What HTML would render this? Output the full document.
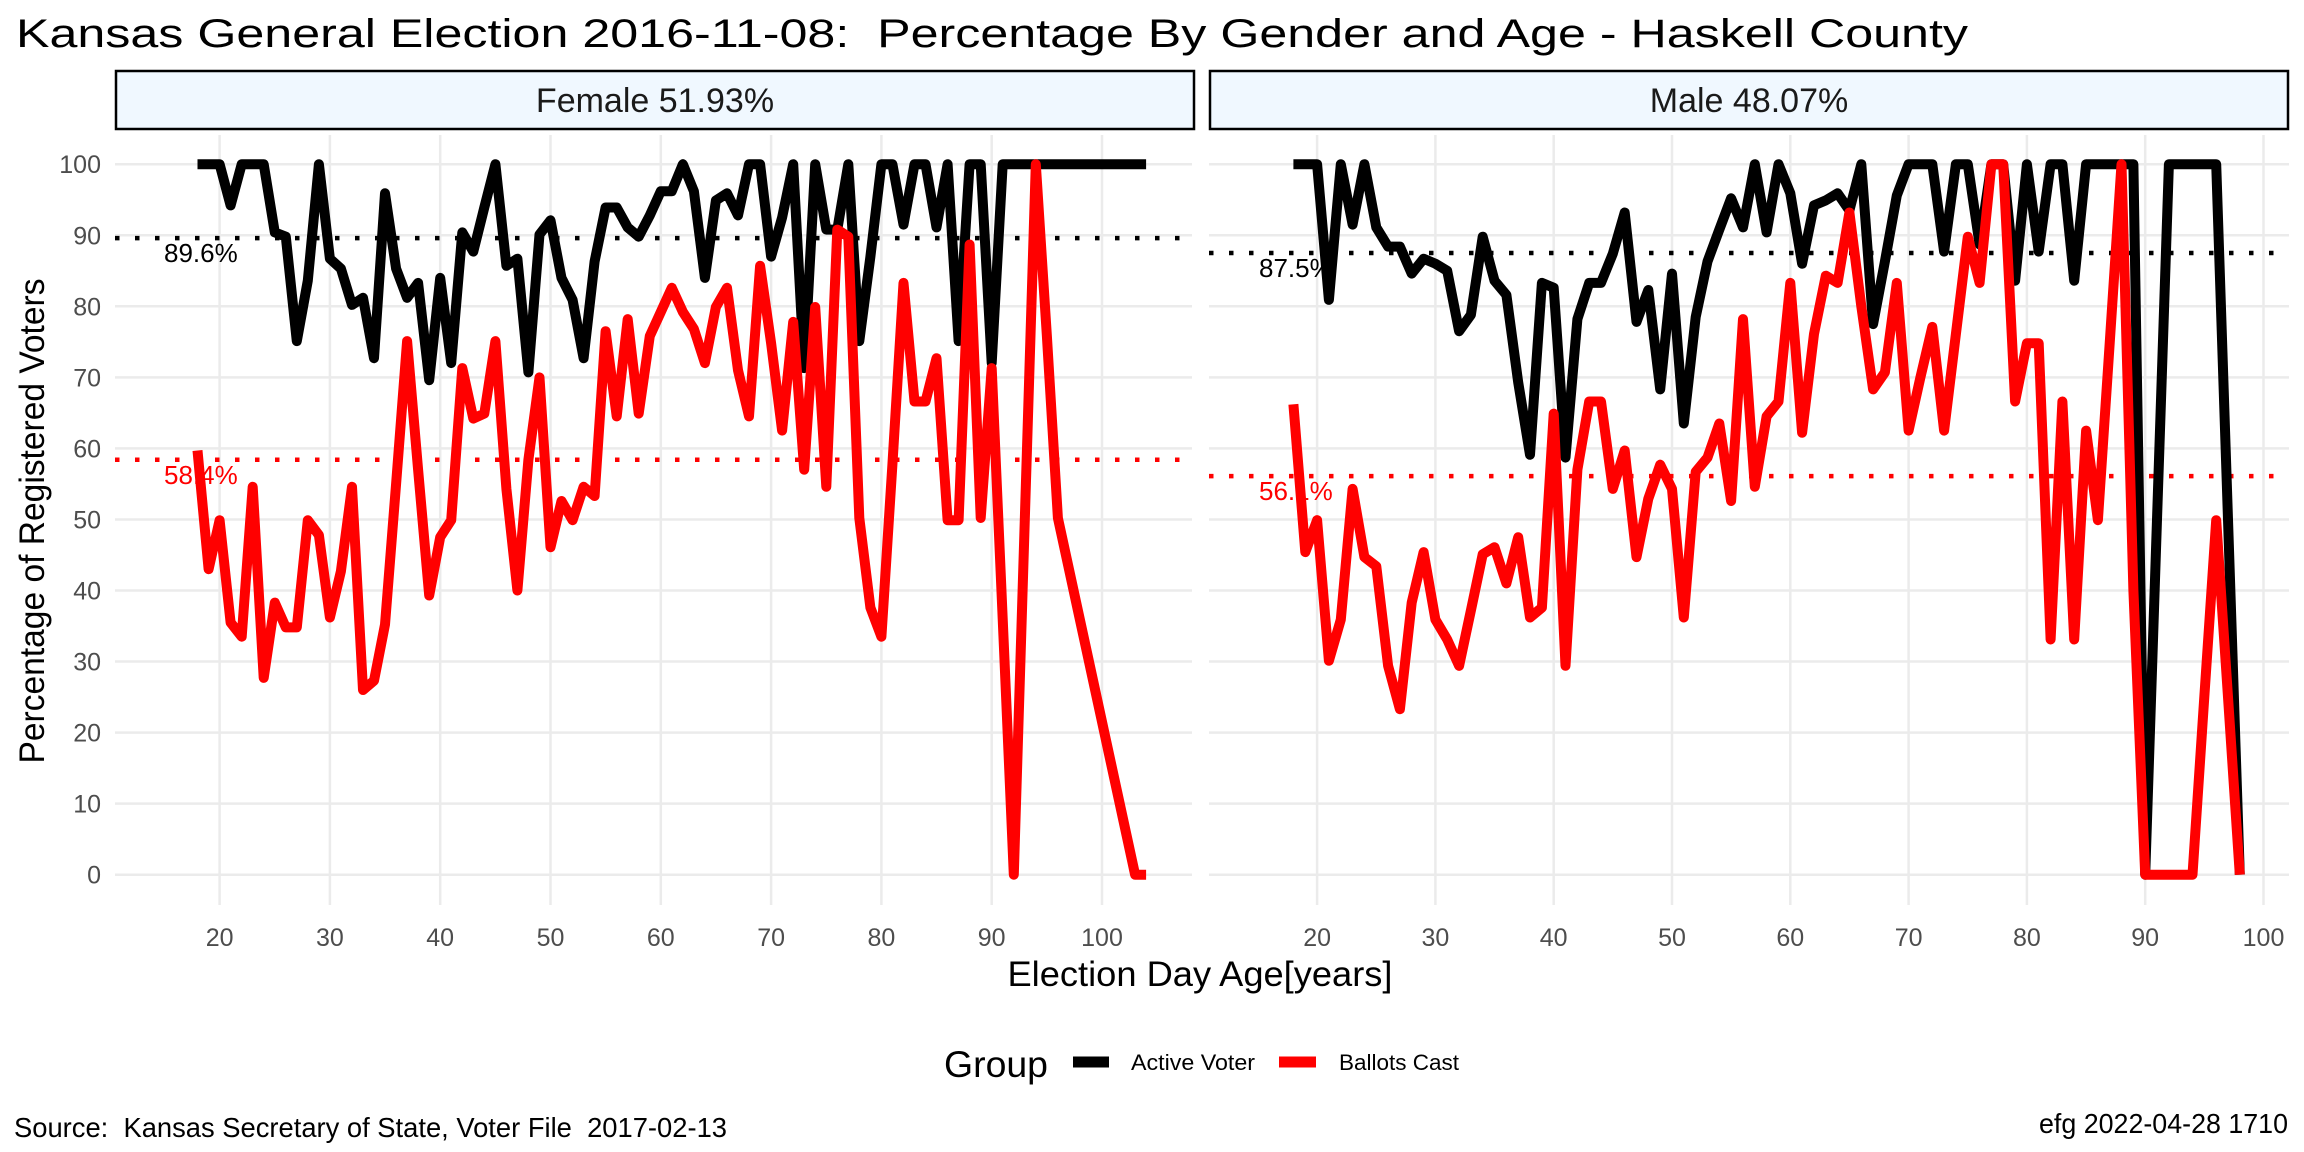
<!DOCTYPE html>
<html><head><meta charset="utf-8"><style>
html,body{margin:0;padding:0;background:#fff;}
svg{display:block;font-family:"Liberation Sans",Arial,sans-serif;}
svg text{white-space:pre;}
</style></head><body>
<svg id="chart" width="2304" height="1152" viewBox="0 0 2304 1152" xmlns="http://www.w3.org/2000/svg" xml:space="preserve">
<rect width="2304" height="1152" fill="#fff"/>
<text x="16" y="47" font-size="40" textLength="1952" lengthAdjust="spacingAndGlyphs">Kansas General Election 2016-11-08:  Percentage By Gender and Age - Haskell County</text>
<g id="panels"></g>
<text transform="translate(44,521) rotate(-90)" text-anchor="middle" font-size="35" textLength="485" lengthAdjust="spacingAndGlyphs">Percentage of Registered Voters</text>
<text x="1200" y="986" text-anchor="middle" font-size="35" textLength="385" lengthAdjust="spacingAndGlyphs">Election Day Age[years]</text>
<g>
<text x="944" y="1077" font-size="37" textLength="104" lengthAdjust="spacingAndGlyphs">Group</text>
<line x1="1073" y1="1062" x2="1109" y2="1062" stroke="#000" stroke-width="11"/>
<text x="1131" y="1070" font-size="22" textLength="124" lengthAdjust="spacingAndGlyphs">Active Voter</text>
<line x1="1279" y1="1062" x2="1316" y2="1062" stroke="#f00" stroke-width="11"/>
<text x="1339" y="1070" font-size="22" textLength="120" lengthAdjust="spacingAndGlyphs">Ballots Cast</text>
</g>
<text x="14" y="1137" font-size="28" textLength="713" lengthAdjust="spacingAndGlyphs">Source:  Kansas Secretary of State, Voter File  2017-02-13</text>
<text x="2288" y="1133" text-anchor="end" font-size="28" textLength="249" lengthAdjust="spacingAndGlyphs">efg 2022-04-28 1710</text>
</svg>
<script>
// Female panel data
const femaleActiveAges = [18,19,20,21,22,23,24,25,26,27,28,29,30,31,32,33,34,35,36,37,38,39,40,41,42,43,44,45,46,47,48,49,50,51,52,53,54,55,56,57,58,59,60,61,62,63,64,65,66,67,68,69,70,71,72,73,74,75,76,77,78,79,80,81,82,83,84,85,86,87,88,89,90,91,92,93,94,95,96,97,98,99,100,101,102,103,104];
const femaleActive = [100,100,100,94.2,100,100,100,90.4,89.8,75.1,83.6,100,86.7,85.3,80.2,81.2,72.7,95.9,85.3,81.2,83.3,69.6,84,72,90.4,87.7,93.9,100,85.7,86.7,70.7,90.1,92.1,84,80.9,72.7,86.3,93.9,93.9,91.1,89.8,92.8,96.2,96.2,100,96.2,84,94.9,95.9,92.8,100,100,87,92.5,100,71.3,100,90.8,90.8,100,75.1,87,100,100,91.5,100,100,91.1,100,75.1,100,100,72,100,100,100,100,100,100,100,100,100,100,100,100,100,100];
const femaleBallotAges = [18,19,20,21,22,23,24,25,26,27,28,29,30,31,32,33,34,35,36,37,38,39,40,41,42,43,44,45,46,47,48,49,50,51,52,53,54,55,56,57,58,59,60,61,62,63,64,65,66,67,68,69,70,71,72,73,74,75,76,77,78,79,80,81,82,83,84,85,86,87,88,89,90,91,92,93,94,95,96,103,104];
const femaleBallots = [59.7,43,49.9,35.5,33.5,54.6,27.7,38.3,34.8,34.8,49.9,47.8,36.2,42.7,54.6,26,27.3,35.2,55,75.1,57,39.3,47.5,49.9,71.3,64.2,64.9,75.1,54.3,40,58.4,70,46.1,52.6,49.9,54.6,53.3,76.5,64.5,78.2,64.9,75.8,79.2,82.6,79.2,76.8,72,79.9,82.6,71,64.5,85.7,74.8,62.5,77.8,57,79.9,54.6,90.8,89.8,50.2,37.6,33.5,57.7,83.3,66.6,66.6,72.7,49.9,49.9,88.7,50.2,71.3,36,0,50,100,76,50.2,0,0];
// Male panel data
const maleActiveAges = [18,19,20,21,22,23,24,25,26,27,28,29,30,31,32,33,34,35,36,37,38,39,40,41,42,43,44,45,46,47,48,49,50,51,52,53,54,55,56,57,58,59,60,61,62,63,64,65,66,67,68,69,70,71,72,73,74,75,76,77,78,79,80,81,82,83,84,85,86,87,88,89,90,91,92,93,94,95,96,97,98];
const maleActive = [100,100,100,80.9,100,91.5,100,91.1,88.4,88.4,84.6,86.7,86,85,76.5,78.8,89.8,83.6,81.6,69.3,59.1,83.3,82.6,58.7,78.2,83.3,83.3,87.4,93.2,77.8,82.3,68.3,84.6,63.5,78.5,86.3,90.8,95.2,91.1,100,90.4,100,95.9,86,94.2,94.9,95.9,93.5,100,77.5,86.3,95.6,100,100,100,87.7,100,100,88.7,100,100,83.6,100,87.7,100,100,83.6,100,100,100,100,100,0,50,100,100,100,100,100,50,0];
const maleBallotAges = [18,19,20,21,22,23,24,25,26,27,28,29,30,31,32,33,34,35,36,37,38,39,40,41,42,43,44,45,46,47,48,49,50,51,52,53,54,55,56,57,58,59,60,61,62,63,64,65,66,67,68,69,70,71,72,73,74,75,76,77,78,79,80,81,82,83,84,85,86,87,88,89,90,91,92,93,94,95,96,97,98];
const maleBallots = [66.2,45.4,49.9,30.1,35.9,54.3,44.7,43.4,29.4,23.3,38.3,45.4,35.9,33.1,29.4,37.2,45.1,46.1,41,47.5,36.2,37.6,64.9,29.4,57,66.6,66.6,54.3,59.7,44.7,52.9,57.7,54.3,36.2,56.7,58.7,63.5,52.6,78.2,54.6,64.5,66.6,83.3,62.2,76.1,84.3,83.3,93.2,80,68.3,70.7,83.3,62.5,70,77.1,62.5,76.1,89.8,83.3,100,100,66.6,74.8,74.8,33.1,66.6,33.1,62.5,49.9,74.8,100,40,0,0,0,0,0,25,49.9,25,0];
// Reference means
const panelNames = ["Female 51.93%","Male 48.07%"];
const activeMeans = [89.6, 87.5];
const ballotMeans = [58.4, 56.1];
const yTicks = [0,10,20,30,40,50,60,70,80,90,100];
const xTicks = [20,30,40,50,60,70,80,90,100];

const NS = "http://www.w3.org/2000/svg";
const root = document.getElementById('panels');
function mk(tag, attrs, parent){ const e=document.createElementNS(NS,tag); for(const k in attrs) e.setAttribute(k,attrs[k]); parent.appendChild(e); return e; }
function yScale(v){ return 874.7 - v*7.105; }
const panels = [
  {x0:115, x1:1192, sx0:116, sx1:1194, ax:219.6, k:11.03, lab:164, keyName:'female',
   series:[[femaleActiveAges,femaleActive,'#000','active'],[femaleBallotAges,femaleBallots,'#f00','ballots']]},
  {x0:1209, x1:2289, sx0:1210, sx1:2288, ax:1317.1, k:11.83, lab:1259, keyName:'male',
   series:[[maleActiveAges,maleActive,'#000','active'],[maleBallotAges,maleBallots,'#f00','ballots']]}
];
panels.forEach((p, pi) => {
  const xs = a => p.ax + (a-20)*p.k;
  const g = mk('g', {}, root);
  
  
  yTicks.forEach(t => {
    const l = mk('line', {x1:p.x0, x2:p.x1, y1:yScale(t), y2:yScale(t), stroke:'#EBEBEB', 'stroke-width':2.5}, g);
    
    
    if (pi === 0) {
      const tx = mk('text', {x:101, y:yScale(t)+9, 'text-anchor':'end', 'font-size':25, fill:'#4D4D4D'}, root);
      
      
      tx.textContent = t;
    }
  });
  xTicks.forEach(t => {
    const l = mk('line', {x1:xs(t), x2:xs(t), y1:135, y2:905, stroke:'#EBEBEB', 'stroke-width':2.5}, g);
    
    
    const tx = mk('text', {x:xs(t), y:946, 'text-anchor':'middle', 'font-size':25, fill:'#4D4D4D'}, g);
    
    
    tx.textContent = t;
  });
  const strip = mk('rect', {x:p.sx0, y:71, width:p.sx1-p.sx0, height:58, fill:'#F0F8FF', stroke:'#000', 'stroke-width':2.5}, g);
  
  
  const st = mk('text', {x:(p.sx0+p.sx1)/2, y:112, 'text-anchor':'middle', 'font-size':34, fill:'#1a1a1a'}, g);
  
  
  st.textContent = panelNames[pi];
  [[activeMeans[pi],'#000','active'],[ballotMeans[pi],'#f00','ballots']].forEach(m => {
    const l = mk('line', {x1:p.x0, x2:p.x1, y1:yScale(m[0]), y2:yScale(m[0]), stroke:m[1], 'stroke-width':4.5, 'stroke-dasharray':'4.5 15.5'}, g);
    
    
    const t = mk('text', {x:p.lab, y:yScale(m[0])+24, 'font-size':26, fill:m[1]}, g);
    
    
    t.textContent = m[0].toFixed(1) + '%';
  });
  p.series.forEach(s => {
    const pts = s[0].map((a,i) => xs(a).toFixed(1) + ',' + yScale(s[1][i]).toFixed(1)).join(' ');
    const pl = mk('polyline', {points:pts, fill:'none', stroke:s[2], 'stroke-width':10, 'stroke-linejoin':'round', 'stroke-linecap':'butt'}, g);
    
    
  });
});
</script>
</body></html>
